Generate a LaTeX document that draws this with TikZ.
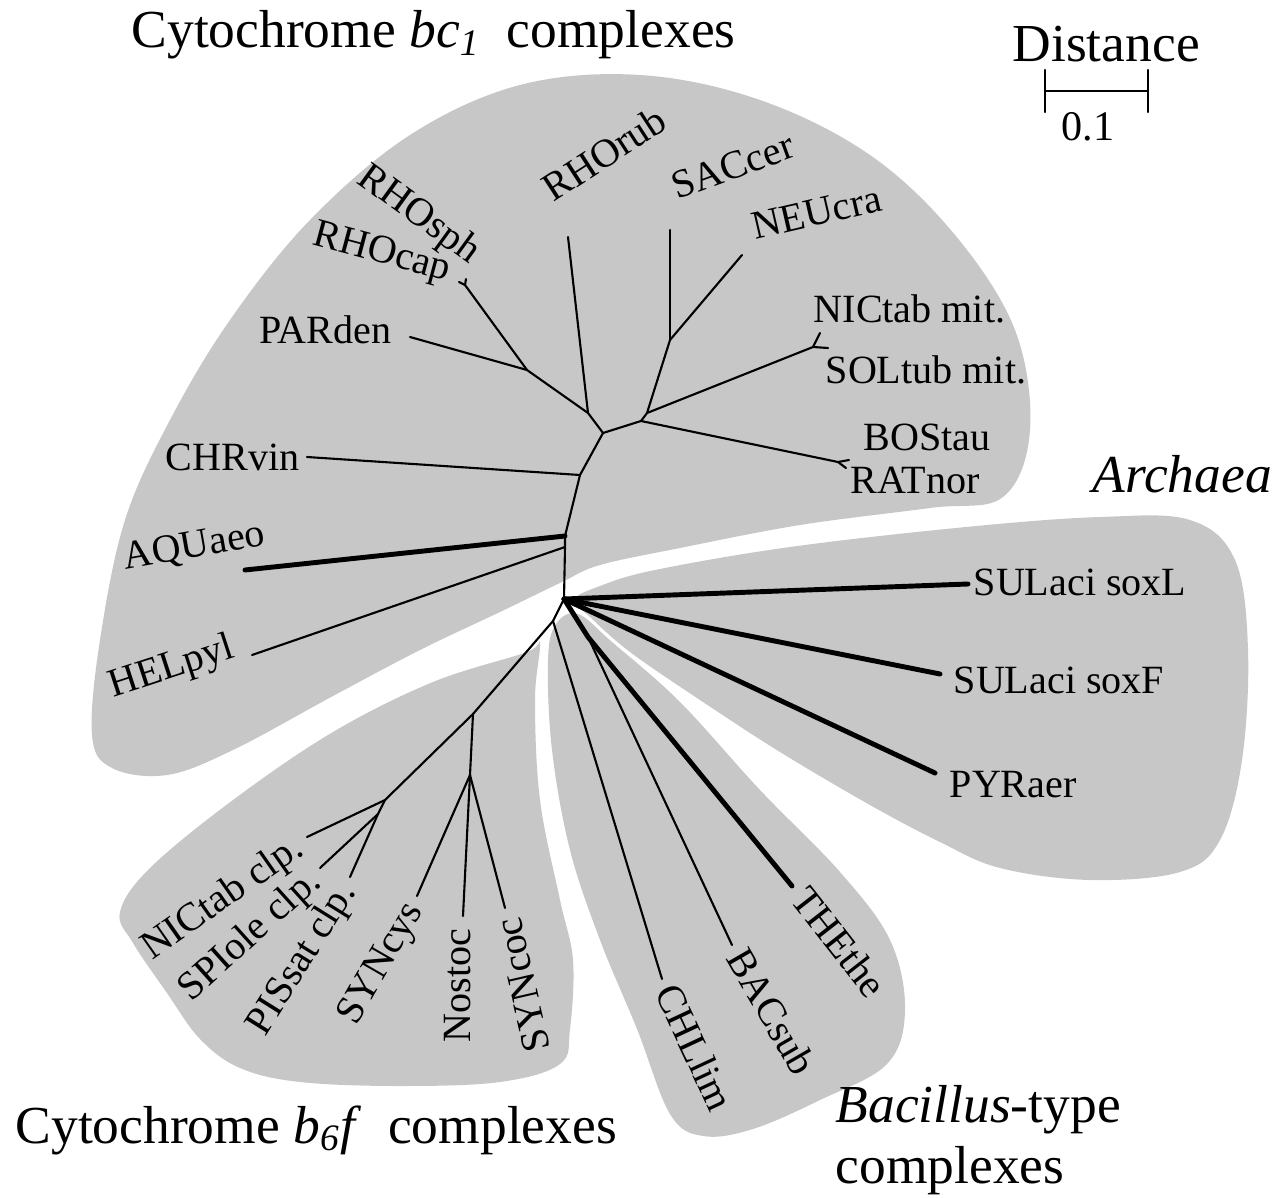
\documentclass[tikz,border=0pt]{standalone}
\usepackage{fontspec}
\setmainfont{Liberation Serif}

\begin{document}
\begin{tikzpicture}[x=0.01cm, y=-0.01cm,
    clade/.style={fill=black!22, draw=none},
    br/.style={line width=0.6pt, line cap=round},
    thk/.style={line width=1.4pt, line cap=round},
    lbl/.style={font=\fontsize{11.4}{13}\selectfont, inner sep=0pt},
    ttl/.style={font=\fontsize{15.2}{18}\selectfont, inner sep=0pt}]
    \useasboundingbox (0,0) rectangle (1282,1197);

    % Shaded groups
    \fill[clade] plot[smooth cycle, tension=0.6] coordinates {
        (92,735) (100,640) (125,520) (170,420) (230,320) (310,220) (410,135)
        (520,85) (640,75) (760,100) (870,155) (955,235) (1015,330) (1030,430)
        (1003,497) (930,508) (800,525) (680,548) (600,565) (562,582)
        (500,612) (420,650) (333,696) (233,750) (167,775) (112,768)};
    \fill[clade] plot[smooth cycle, tension=0.6] coordinates {
        (574,600) (600,586) (655,570) (790,547) (966,527) (1100,517) (1190,520)
        (1235,560) (1248,650) (1242,760) (1220,840) (1180,872) (1090,880)
        (1000,868) (940,842) (870,805) (780,752) (700,700) (630,652) (590,617)};
    \fill[clade] plot[smooth cycle, tension=0.6] coordinates {
        (556,624) (578,614) (612,642) (680,702) (760,790) (840,872) (890,940)
        (905,1010) (887,1064) (820,1100) (753,1129) (703,1136) (670,1114)
        (637,1029) (600,940) (570,850) (552,750) (548,660)};
    \fill[clade] plot[smooth cycle, tension=0.6] coordinates {
        (540,642) (535,700) (540,800) (560,900) (573,960) (570,1029) (560,1064)
        (500,1082) (400,1086) (300,1082) (240,1068) (200,1039) (167,993)
        (133,943) (120,912) (150,868) (233,800) (333,732) (433,682) (527,652)};

    % Branch points
    \coordinate (r0) at (564,599);
    \coordinate (n1) at (565,547);
    \coordinate (n2) at (565,536);
    \coordinate (n3) at (580,475);
    \coordinate (n4) at (603,433);
    \coordinate (n5) at (588,413);
    \coordinate (n6) at (527,370);
    \coordinate (n7) at (641,421);
    \coordinate (n8) at (647,413);
    \coordinate (n9) at (670,340);
    \coordinate (nB) at (588,637);
    \coordinate (nC) at (553,621);
    \coordinate (nD) at (473,714);
    \coordinate (nE) at (470,775);
    \coordinate (nF) at (385,800);
    \coordinate (nG) at (378,814);

    % Tips
    \coordinate (tRUB) at (568,237);
    \coordinate (tSAC) at (670,230);
    \coordinate (tNEU) at (742,255);
    \coordinate (tCAP) at (465,285);
    \coordinate (fSPH) at (466,279);
    \coordinate (fCAP) at (459,282);
    \coordinate (tPAR) at (410,337);
    \coordinate (fMIT) at (813,347);
    \coordinate (fNIC) at (820,333);
    \coordinate (fSOL) at (828,348);
    \coordinate (fBR) at (838,462);
    \coordinate (fBOS) at (849,460);
    \coordinate (fRAT) at (846,468);
    \coordinate (tCHR) at (307,457);
    \coordinate (tAQU) at (245,570);
    \coordinate (tHEL) at (252,655);
    \coordinate (tSOXL) at (968,584);
    \coordinate (tSOXF) at (940,674);
    \coordinate (tPYR) at (935,773);
    \coordinate (tTHE) at (792,886);
    \coordinate (tBAC) at (732,945);
    \coordinate (tCHL) at (662,979);
    \coordinate (tSYS) at (417,896);
    \coordinate (tNOS) at (463,916);
    \coordinate (tSYC) at (505,908);
    \coordinate (tNIC) at (307,837);
    \coordinate (tSPI) at (320,868);
    \coordinate (tPIS) at (350,877);

    % bc1 branches
    \draw[br] (r0) -- (n1) -- (n2) -- (n3) -- (n4);
    \draw[br] (n4) -- (n5) -- (n6);
    \draw[br] (n5) -- (tRUB);
    \draw[br] (n6) -- (tPAR);
    \draw[br] (n6) -- (tCAP);
    \draw[br] (tCAP) -- (fSPH);
    \draw[br] (tCAP) -- (fCAP);
    \draw[br] (n4) -- (n7) -- (n8) -- (n9);
    \draw[br] (n9) -- (tSAC);
    \draw[br] (n9) -- (tNEU);
    \draw[br] (n8) -- (fMIT);
    \draw[br] (fMIT) -- (fNIC);
    \draw[br] (fMIT) -- (fSOL);
    \draw[br] (n7) -- (fBR);
    \draw[br] (fBR) -- (fBOS);
    \draw[br] (fBR) -- (fRAT);
    \draw[br] (n3) -- (tCHR);
    \draw[thk] (n2) -- (tAQU);
    \draw[br] (n1) -- (tHEL);

    % Archaea branches
    \draw[thk] (r0) -- (tSOXL);
    \draw[thk] (r0) -- (tSOXF);
    \draw[thk] (r0) -- (tPYR);

    % Bacillus-type branches
    \draw[thk] (r0) -- (nB) -- (tTHE);
    \draw[br] (nB) -- (tBAC);
    \draw[br] (nC) -- (tCHL);

    % b6f branches
    \draw[br] (r0) -- (nC) -- (nD) -- (nF);
    \draw[br] (nD) -- (nE);
    \draw[br] (nE) -- (tSYS);
    \draw[br] (nE) -- (tNOS);
    \draw[br] (nE) -- (tSYC);
    \draw[br] (nF) -- (tNIC);
    \draw[br] (nF) -- (nG);
    \draw[br] (nG) -- (tSPI);
    \draw[br] (nG) -- (tPIS);

    % Leaf labels
    \node[lbl, anchor=base east, rotate=-36] (lRHOsph) at (470,265) {RHOsph};
    \node[lbl, anchor=base east, rotate=-15] (lRHOcap) at (448,281) {RHOcap};
    \node[lbl, anchor=base east] (lPARden) at (392,343) {PARden};
    \node[lbl, anchor=base west, rotate=33] (lRHOrub) at (553,203) {RHOrub};
    \node[lbl, anchor=base west, rotate=20] (lSACcer) at (677,200) {SACcer};
    \node[lbl, anchor=base west, rotate=13] (lNEUcra) at (755,240) {NEUcra};
    \node[lbl, anchor=base west] (lNICmit) at (813,322) {NICtab mit.};
    \node[lbl, anchor=base west] (lSOLmit) at (825,383) {SOLtub mit.};
    \node[lbl, anchor=base west] (lBOStau) at (863,450) {BOStau};
    \node[lbl, anchor=base west] (lRATnor) at (850,493) {RATnor};
    \node[lbl, anchor=base east] (lCHRvin) at (300,470) {CHRvin};
    \node[lbl, anchor=base east, rotate=10] (lAQUaeo) at (267,545) {AQUaeo};
    \node[lbl, anchor=base east, rotate=18] (lHELpyl) at (237,657) {HELpyl};
    \node[lbl, anchor=base west] (lSOXL) at (973,595) {SULaci soxL};
    \node[lbl, anchor=base west] (lSOXF) at (953,693) {SULaci soxF};
    \node[lbl, anchor=base west] (lPYRaer) at (949,797) {PYRaer};
    \node[lbl, anchor=base west, rotate=-52] (lTHEthe) at (789,900) {THEthe};
    \node[lbl, anchor=base west, rotate=-60] (lBACsub) at (725,958) {BACsub};
    \node[lbl, anchor=base west, rotate=-65] (lCHLlim) at (654,992) {CHLlim};
    \node[lbl, anchor=base east, rotate=35] (lNICclp) at (306,853) {NICtab clp.};
    \node[lbl, anchor=base east, rotate=42] (lSPIclp) at (323,884) {SPIole clp.};
    \node[lbl, anchor=base east, rotate=58] (lPISclp) at (357,891) {PISsat clp.};
    \node[lbl, anchor=base east, rotate=60] (lSYNcys) at (424,910) {SYNcys};
    \node[lbl, anchor=base east, rotate=90] (lNostoc) at (470,928) {Nostoc};
    \node[lbl, anchor=base east, rotate=103] (lSYNcoc) at (520,915) {SYNcoc};

    % Group titles
    \node[ttl, anchor=base west] (tBC) at (131,48)
        {Cytochrome \textit{bc}\textsubscript{\textit{1}}\ \ complexes};
    \node[ttl, anchor=base west] (tARC) at (1092,492) {\textit{Archaea}};
    \node[ttl, anchor=base west] (tB6F) at (15,1143)
        {Cytochrome \textit{b}\textsubscript{\textit{6}}\textit{f}\ \ complexes};
    \node[ttl, anchor=base west] (tBAC1) at (835,1122) {\textit{Bacillus}-type};
    \node[ttl, anchor=base west] (tBAC2) at (835,1183) {complexes};

    % Scale bar
    \node[ttl, anchor=base west] (dist) at (1012,62) {Distance};
    \coordinate (sbL) at (1045,91);
    \coordinate (sbR) at (1148,91);
    \draw[br] (sbL) -- (sbR);
    \draw[br] ([yshift=6]sbL) -- ([yshift=-6]sbL);
    \draw[br] ([yshift=6]sbR) -- ([yshift=-6]sbR);
    \node[lbl, font=\fontsize{12}{14}\selectfont, anchor=base] (tenth) at (1088,140) {0.1};
\end{tikzpicture}
\end{document}
